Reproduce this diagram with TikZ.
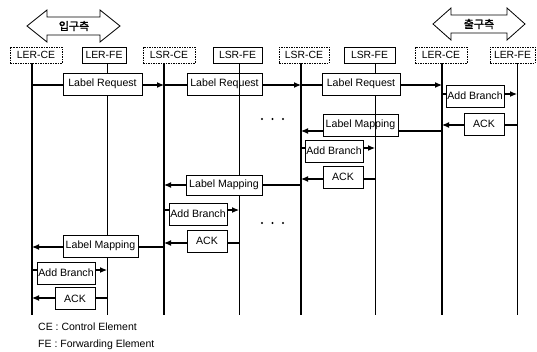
\documentclass[tikz,border=0pt]{standalone}
\usepackage{fontspec}
\setmainfont{Liberation Sans}
\newfontfamily\krfont{Noto Sans CJK KR}[FakeBold=1.5]
\usetikzlibrary{arrows.meta}
\begin{document}
\begin{tikzpicture}[x=1pt,y=-1pt,
 hdr/.style={draw, line width=0.6pt, minimum height=16pt, inner sep=0pt, font=\fontsize{10.4}{12}\selectfont},
 hce/.style={hdr, dash pattern=on 1.5pt off 1pt},
 hfe/.style={hdr},
 lbl/.style={draw, fill=white, line width=0.6pt, minimum height=22pt, inner sep=0pt, font=\fontsize{10.6}{12}\selectfont},
 cel/.style={line width=1.7pt},
 fel/.style={line width=1pt},
 msg/.style={line width=1.1pt, -{Latex[length=7pt,width=6pt]}},
 dblarrow/.style={draw, line width=0.8pt, fill=white},
 dotmark/.style={fill=black, draw=none}]
\useasboundingbox (0,0) rectangle (537,351);

% double arrows
\draw[dblarrow] (27,26) -- (47,10) -- (47,17) -- (100,17) -- (100,10) -- (120,26) -- (100,42) -- (100,35) -- (47,35) -- (47,42) -- cycle;
\node[font=\krfont\fontsize{11}{12}\selectfont] (inside) at (74,26) {입구측};
\draw[dblarrow] (433,24) -- (451,8) -- (451,15) -- (507,15) -- (507,8) -- (525,24) -- (507,40) -- (507,33) -- (451,33) -- (451,40) -- cycle;
\node[font=\krfont\fontsize{11}{12}\selectfont] (outside) at (479,24) {출구측};

% headers
\node[hce, minimum width=52pt] (h1) at (36,55) {LER-CE};
\node[hfe, minimum width=44pt] (h2) at (104,55) {LER-FE};
\node[hce, minimum width=52pt] (h3) at (169,55) {LSR-CE};
\node[hfe, minimum width=49pt] (h4) at (237.5,55) {LSR-FE};
\node[hce, minimum width=50pt] (h5) at (304,55) {LSR-CE};
\node[hfe, minimum width=51pt] (h6) at (369.5,55) {LSR-FE};
\node[hce, minimum width=52pt] (h7) at (441,55) {LER-CE};
\node[hce, minimum width=45pt] (h8) at (512.5,55) {LER-FE};

% lifeline coordinates
\foreach \i/\x in {1/32,2/107,3/164,4/239,5/301,6/375,7/442,8/517}{
  \coordinate (t\i) at (\x,63);
  \coordinate (b\i) at (\x,315);
}
\draw[cel] (t1) -- (b1);
\draw[fel] (t2) -- (b2);
\draw[cel] (t3) -- (b3);
\draw[fel] (t4) -- (b4);
\draw[cel] (t5) -- (b5);
\draw[fel] (t6) -- (b6);
\draw[cel] (t7) -- (b7);
\draw[line width=0.8pt] (t8) -- (b8);

% message endpoints
\foreach \n/\y in {a/85,b/94,c/125,d/131,e/148,f/179,g/185,h/210,i/243,j/247,k/270,l/298}{
  \foreach \i/\x in {1/32,2/107,3/164,4/239,5/301,6/375,7/442,8/517}{
    \coordinate (\n\i) at (\x,\y);
  }
}
\draw[msg] (a1) -- (a3);
\draw[msg] (a3) -- (a5);
\draw[msg] (a5) -- (a7);
\draw[msg] (b7) -- (b8);
\draw[msg] (c8) -- (c7);
\draw[msg] (d7) -- (d5);
\draw[msg] (e5) -- (e6);
\draw[msg] (f6) -- (f5);
\draw[msg] (g5) -- (g3);
\draw[msg] (h3) -- (h4);
\draw[msg] (i4) -- (i3);
\draw[msg] (j3) -- (j1);
\draw[msg] (k1) -- (k2);
\draw[msg] (l2) -- (l1);

% labels
\node[lbl, minimum width=79pt] (m1) at (102.5,84) {Label Request};
\node[lbl, minimum width=75pt] (m2) at (224.5,84) {Label Request};
\node[lbl, minimum width=78pt] (m3) at (361,84) {Label Request};
\node[lbl, minimum width=58pt] (m4) at (475,96) {Add Branch};
\node[lbl, minimum width=40pt] (m5) at (484,124) {ACK};
\node[lbl, minimum width=75pt] (m6) at (360.5,125) {Label Mapping};
\node[lbl, minimum width=58pt] (m7) at (334,151) {Add Branch};
\node[lbl, minimum width=40pt] (m8) at (343,177) {ACK};
\node[lbl, minimum width=76pt, minimum height=20pt] (m9) at (224,185) {Label Mapping};
\node[lbl, minimum width=58pt] (m10) at (198,214) {Add Branch};
\node[lbl, minimum width=40pt] (m11) at (207,241) {ACK};
\node[lbl, minimum width=75pt] (m12) at (100.5,246) {Label Mapping};
\node[lbl, minimum width=58pt] (m13) at (66,273) {Add Branch};
\node[lbl, minimum width=40pt] (m14) at (75,298.5) {ACK};

% lifelines showing through some boxes
\draw[fel] (m2.north -| t4) -- (m2.south -| t4);
\draw[fel] (m6.north -| t6) -- (m6.south -| t6);

% ellipsis dots
\foreach \y in {119,223}{
  \foreach \x in {262,272.5,283}{
    \fill[dotmark] (\x,\y) circle (1.1pt);
  }
}

% legend
\node[anchor=west, font=\fontsize{10.5}{12}\selectfont, inner sep=0pt] (leg1) at (38,327) {CE : Control Element};
\node[anchor=west, font=\fontsize{10.5}{12}\selectfont, inner sep=0pt] (leg2) at (38,345) {FE : Forwarding Element};
\end{tikzpicture}
\end{document}
